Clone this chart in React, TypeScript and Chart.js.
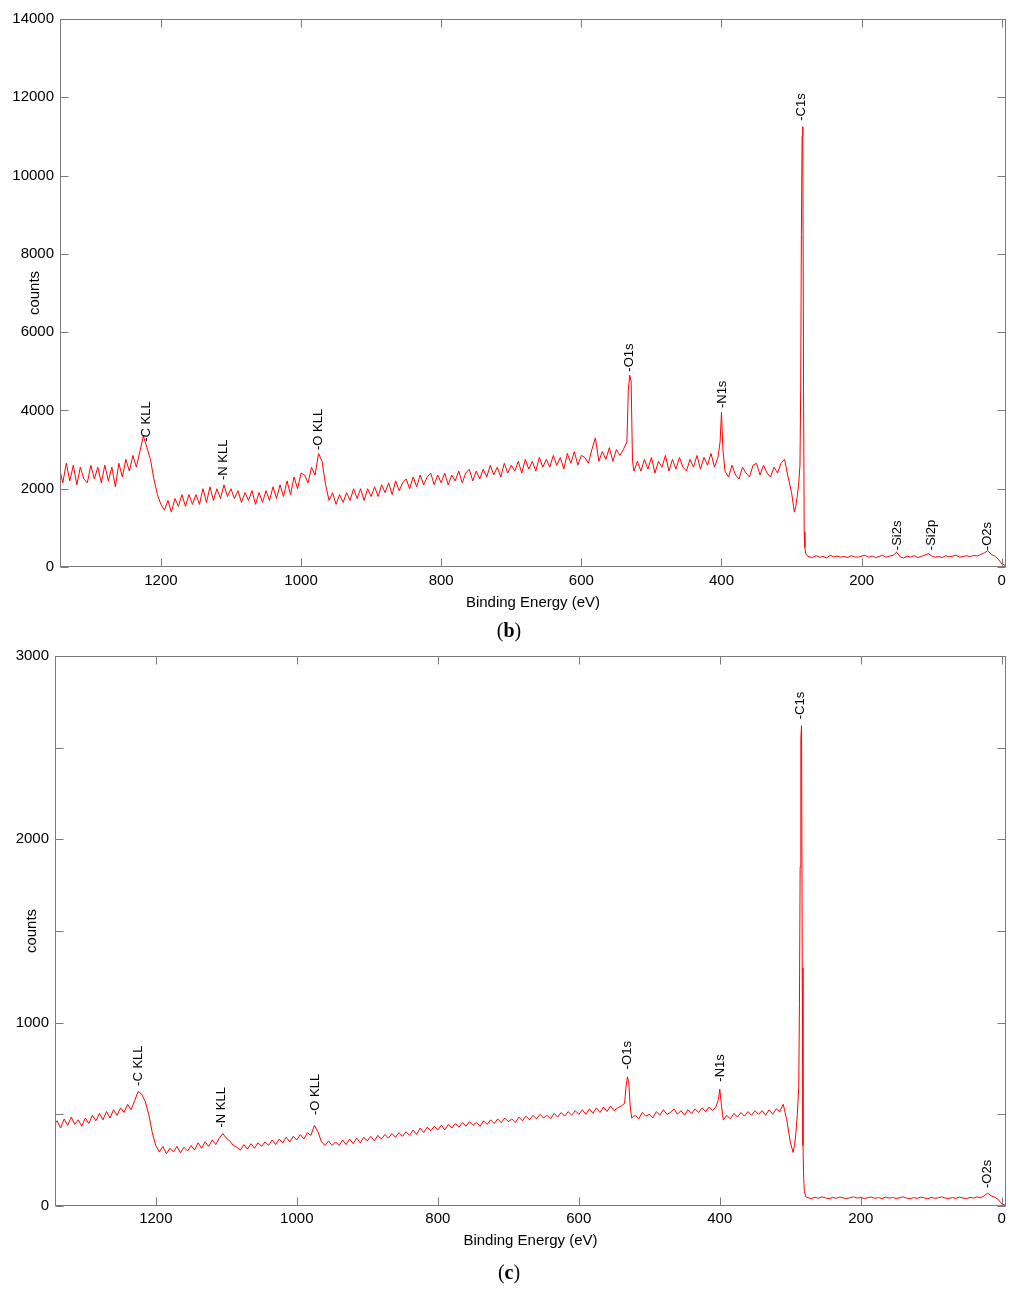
import React, { useEffect, useRef } from 'react';
import { Chart, registerables } from 'chart.js';

Chart.register(...registerables);

const FONT = '"Liberation Sans", Arial, sans-serif';

// Binding energies (eV), shared by both spectra
const energies = [
  1345, 1340, 1335, 1330, 1325, 1320, 1315, 1310, 1305, 1300,
  1295, 1290, 1285, 1280, 1275, 1270, 1265, 1260, 1255, 1250,
  1245, 1240, 1235, 1230, 1225, 1220, 1215, 1210, 1205, 1200,
  1195, 1190, 1185, 1180, 1175, 1170, 1165, 1160, 1155, 1150,
  1145, 1140, 1135, 1130, 1125, 1120, 1115, 1110, 1105, 1100,
  1095, 1090, 1085, 1080, 1075, 1070, 1065, 1060, 1055, 1050,
  1045, 1040, 1035, 1030, 1025, 1020, 1015, 1010, 1005, 1000,
  995, 990, 985, 980, 975, 970, 965, 960, 955, 950,
  945, 940, 935, 930, 925, 920, 915, 910, 905, 900,
  895, 890, 885, 880, 875, 870, 865, 860, 855, 850,
  845, 840, 835, 830, 825, 820, 815, 810, 805, 800,
  795, 790, 785, 780, 775, 770, 765, 760, 755, 750,
  745, 740, 735, 730, 725, 720, 715, 710, 705, 700,
  695, 690, 685, 680, 675, 670, 665, 660, 655, 650,
  645, 640, 635, 630, 625, 620, 615, 610, 605, 600,
  595, 590, 585, 580, 575, 570, 565, 560, 555, 550,
  545, 540, 535, 533, 531, 529, 527, 525,
  520, 515, 510, 505, 500, 495, 490, 485, 480, 475,
  470, 465, 460, 455, 450, 445, 440, 435, 430, 425,
  420, 415, 410, 405, 402, 400, 398,
  395, 390, 385, 380, 375, 370, 365, 360, 355, 350,
  345, 340, 335, 330, 325, 320, 315, 310, 305, 300,
  296, 294, 292, 290, 288, 287, 286, 285, 284, 283, 282, 281, 280, 278,
  275, 270, 265, 260, 255, 250, 245, 240, 235, 230,
  225, 220, 215, 210, 205, 200, 195, 190, 185, 180,
  175, 170, 165, 160, 155, 150, 145, 140, 135, 130,
  125, 120, 115, 110, 105, 100, 95, 90, 85, 80,
  75, 70, 65, 60, 55, 50, 45, 40, 35, 30,
  25, 20, 15, 10, 5, 2, 0, -5,
];

// Spectrum (b) counts
const countsB = [
  2550, 2150, 2650, 2200, 2600, 2100, 2550, 2250, 2150, 2600,
  2250, 2550, 2150, 2600, 2200, 2550, 2050, 2650, 2300, 2750,
  2450, 2850, 2550, 2950, 3350, 3050, 2750, 2250, 1850, 1600,
  1450, 1700, 1400, 1750, 1550, 1850, 1550, 1850, 1600, 1850,
  1600, 2000, 1650, 2050, 1700, 2000, 1750, 2100, 1800, 2000,
  1750, 1950, 1650, 1900, 1700, 1950, 1600, 1900, 1650, 1950,
  1700, 2050, 1750, 2100, 1800, 2200, 1850, 2300, 2000, 2400,
  2350, 2150, 2550, 2350, 2900, 2700, 2100, 1700, 1900, 1600,
  1850, 1650, 1900, 1700, 2000, 1750, 2000, 1700, 2000, 1800,
  2050, 1800, 2100, 1900, 2150, 1850, 2200, 1950, 2150, 2250,
  2000, 2300, 2050, 2350, 2100, 2300, 2400, 2100, 2350, 2150,
  2400, 2100, 2350, 2200, 2450, 2150, 2400, 2500, 2200, 2450,
  2250, 2500, 2300, 2600, 2350, 2550, 2300, 2650, 2400, 2600,
  2450, 2700, 2400, 2750, 2500, 2700, 2450, 2800, 2550, 2750,
  2550, 2850, 2600, 2800, 2500, 2900, 2650, 2950, 2600, 2850,
  2800, 2650, 3000, 3300, 2700, 2950, 2750, 3050, 2700, 3000,
  2850, 3000, 3200, 4500, 4900, 4750, 2700, 2450,
  2700, 2450, 2750, 2500, 2800, 2400, 2700, 2550, 2850, 2450,
  2750, 2500, 2800, 2550, 2450, 2750, 2550, 2850, 2500, 2800,
  2600, 2900, 2550, 2800, 3200, 3950, 3000,
  2450, 2300, 2600, 2350, 2250, 2550, 2400, 2300, 2600, 2650,
  2350, 2600, 2400, 2300, 2550, 2400, 2650, 2750, 2300, 1900,
  1400, 1550, 1800, 2100, 2600, 4500, 8500, 11000, 11250, 5000, 900, 500, 350, 290,
  260, 240, 290, 250, 270, 230, 300, 260, 280, 250,
  270, 240, 290, 260, 250, 280, 300, 250, 280, 240,
  270, 300, 250, 280, 300, 380, 260, 230, 280, 250,
  290, 240, 270, 300, 340, 280, 250, 270, 240, 290,
  260, 280, 300, 250, 270, 290, 260, 300, 280, 320,
  360, 420, 320, 280, 200, 130, 80, 40,
];

// Spectrum (c) counts
const countsC = [
  440, 465, 425, 475, 440, 485, 445, 470, 435, 480,
  450, 495, 465, 505, 470, 515, 480, 525, 495, 535,
  510, 555, 525, 575, 625, 610, 570, 500, 400, 330,
  295, 325, 285, 315, 295, 325, 290, 320, 300, 330,
  305, 345, 315, 350, 325, 360, 335, 370, 395, 370,
  355, 330, 320, 305, 335, 310, 340, 315, 345, 325,
  350, 330, 360, 335, 365, 345, 375, 350, 380, 360,
  390, 365, 400, 385, 440, 405, 350, 330, 355, 330,
  350, 330, 360, 335, 365, 340, 370, 345, 375, 355,
  380, 355, 385, 365, 390, 370, 395, 375, 400, 380,
  405, 385, 415, 390, 425, 400, 430, 410, 435, 415,
  440, 415, 445, 425, 450, 430, 455, 435, 460, 440,
  455, 435, 465, 445, 470, 450, 475, 455, 480, 460,
  475, 455, 485, 465, 490, 470, 495, 475, 500, 480,
  495, 475, 505, 485, 510, 490, 515, 495, 520, 500,
  525, 500, 530, 505, 535, 510, 540, 515, 545, 520,
  535, 545, 560, 650, 705, 670, 540, 480,
  495, 475, 510, 490, 500, 480, 515, 495, 525, 500,
  510, 530, 500, 520, 495, 525, 505, 530, 510, 535,
  515, 540, 520, 545, 580, 638, 560,
  470, 495, 475, 505, 485, 510, 490, 515, 495, 520,
  500, 520, 495, 525, 500, 530, 515, 555, 470, 350,
  292, 330, 400, 500, 650, 1100, 1850, 2550, 2620, 1300, 330, 150, 80, 50,
  45, 40, 48, 42, 50, 44, 40, 47, 42, 49,
  44, 40, 46, 50, 43, 47, 41, 45, 49, 42,
  46, 40, 48, 43, 47, 41, 45, 50, 43, 40,
  46, 42, 48, 44, 40, 47, 42, 45, 50, 43,
  41, 46, 42, 48, 44, 40, 47, 43, 50, 45,
  55, 70, 55, 48, 35, 20, 10, 5,
];

const xTickValues = [0, 200, 400, 600, 800, 1000, 1200];
const yTicksB = [0, 2000, 4000, 6000, 8000, 10000, 12000, 14000];
const yTicksC = [0, 500, 1000, 1500, 2000, 2500, 3000];
const yLabelsC = [0, 1000, 2000, 3000];

// Peak annotations
const peakNamesB = ['-C KLL', '-N KLL', '-O KLL', '-O1s', '-N1s', '-C1s', '-Si2s', '-Si2p', '-O2s'];
const peakEnergyB = [1221, 1111, 975, 531, 398, 286, 149, 101, 21];
const peakLabelYB = [3200, 2220, 2990, 4990, 4060, 11400, 430, 430, 430];

const peakNamesC = ['-C KLL', '-N KLL', '-O KLL', '-O1s', '-N1s', '-C1s', '-O2s'];
const peakEnergyC = [1225, 1107, 973, 531, 399, 285, 21];
const peakLabelYC = [655, 428, 496, 746, 678, 2655, 98];

type Cfg = {
  counts: number[];
  yMax: number;
  yTicks: number[];
  yLabels: number[];
  xMin: number;
  xMax: number;
  names: string[];
  peakE: number[];
  peakY: number[];
  padding: { left: number; right: number; top: number; bottom: number };
  yWidth: number;
  xHeight: number;
  xTickPad: number;
  yTitlePad: number;
};

function makeChart(canvas: HTMLCanvasElement, cfg: Cfg) {
  const points = energies.map((e, i) => ({ x: e, y: cfg.counts[i] }));
  const overlay = {
    id: 'overlay',
    afterDraw(chart: any) {
      const { ctx, chartArea: a, scales } = chart;
      const L = Math.round(a.left) + 0.5;
      const R = Math.round(a.right) - 0.5;
      const T = Math.round(a.top) + 0.5;
      const B = Math.round(a.bottom) - 0.5;
      ctx.save();
      ctx.strokeStyle = '#7a7a7a';
      ctx.lineWidth = 1;
      ctx.strokeRect(L, T, R - L, B - T);
      const tl = 8;
      ctx.beginPath();
      for (const t of scales.x.ticks) {
        const px = Math.round(scales.x.getPixelForValue(t.value)) + 0.5;
        ctx.moveTo(px, B);
        ctx.lineTo(px, B - tl);
        ctx.moveTo(px, T);
        ctx.lineTo(px, T + tl);
      }
      for (const t of scales.y.ticks) {
        const py = Math.round(scales.y.getPixelForValue(t.value)) + 0.5;
        ctx.moveTo(L, py);
        ctx.lineTo(L + tl, py);
        ctx.moveTo(R, py);
        ctx.lineTo(R - tl, py);
      }
      ctx.stroke();
      ctx.fillStyle = '#000';
      ctx.font = '13px ' + FONT;
      ctx.textAlign = 'left';
      ctx.textBaseline = 'middle';
      cfg.names.forEach((n, i) => {
        const x = scales.x.getPixelForValue(cfg.peakE[i]);
        const y = scales.y.getPixelForValue(cfg.peakY[i]);
        ctx.save();
        ctx.translate(x, y);
        ctx.rotate(-Math.PI / 2);
        ctx.fillText(n, 0, 0);
        ctx.restore();
      });
      ctx.restore();
    },
  };
  return new Chart(canvas, {
    type: 'line',
    data: {
      datasets: [
        {
          data: points,
          borderColor: '#ff0000',
          borderWidth: 1,
          pointRadius: 0,
          tension: 0,
          fill: false,
        },
      ],
    },
    options: {
      responsive: false,
      animation: false,
      events: [],
      layout: { padding: cfg.padding },
      plugins: { legend: { display: false }, tooltip: { enabled: false } },
      scales: {
        x: {
          type: 'linear',
          reverse: true,
          min: cfg.xMin,
          max: cfg.xMax,
          afterBuildTicks: (s: any) => {
            s.ticks = xTickValues.map((v) => ({ value: v }));
          },
          afterFit: (s: any) => {
            s.height = cfg.xHeight;
          },
          grid: { display: false, drawTicks: false },
          border: { display: false },
          ticks: {
            padding: cfg.xTickPad,
            color: '#000',
            font: { family: FONT, size: 15 },
            maxRotation: 0,
            autoSkip: false,
            callback: (v: any) => String(v),
          },
          title: {
            display: true,
            text: 'Binding Energy (eV)',
            color: '#000',
            font: { family: FONT, size: 15 },
            padding: { top: 0, bottom: 0 },
          },
        },
        y: {
          type: 'linear',
          min: 0,
          max: cfg.yMax,
          afterBuildTicks: (s: any) => {
            s.ticks = cfg.yTicks.map((v) => ({ value: v }));
          },
          afterFit: (s: any) => {
            s.width = cfg.yWidth;
          },
          grid: { display: false, drawTicks: false },
          border: { display: false },
          ticks: {
            padding: 6,
            color: '#000',
            font: { family: FONT, size: 15 },
            autoSkip: false,
            callback: (v: any) => (cfg.yLabels.includes(Number(v)) ? String(v) : ''),
          },
          title: {
            display: true,
            text: 'counts',
            color: '#000',
            font: { family: FONT, size: 15 },
            padding: { top: cfg.yTitlePad, bottom: 0 },
          },
        },
      },
    } as any,
    plugins: [overlay],
  });
}

const cfgB: Cfg = {
  counts: countsB,
  yMax: 14000,
  yTicks: yTicksB,
  yLabels: yTicksB,
  xMin: -6,
  xMax: 1344,
  names: peakNamesB,
  peakE: peakEnergyB,
  peakY: peakLabelYB,
  padding: { left: 0, right: 18, top: 19, bottom: 28 },
  yWidth: 60,
  xHeight: 45,
  xTickPad: 5,
  yTitlePad: 26,
};

const cfgC: Cfg = {
  counts: countsC,
  yMax: 3000,
  yTicks: yTicksC,
  yLabels: yLabelsC,
  xMin: -6,
  xMax: 1343,
  names: peakNamesC,
  peakE: peakEnergyC,
  peakY: peakLabelYC,
  padding: { left: 0, right: 18, top: 16, bottom: 30 },
  yWidth: 55,
  xHeight: 44,
  xTickPad: 4,
  yTitlePad: 23,
};

const capStyle: React.CSSProperties = {
  position: 'absolute',
  left: 459,
  width: 100,
  textAlign: 'center',
  fontFamily: '"Liberation Serif", "DejaVu Serif", serif',
  fontSize: 20,
  lineHeight: '24px',
  color: '#000',
};

export default function App() {
  const refB = useRef<HTMLCanvasElement>(null);
  const refC = useRef<HTMLCanvasElement>(null);
  useEffect(() => {
    const cb = makeChart(refB.current as HTMLCanvasElement, cfgB);
    const cc = makeChart(refC.current as HTMLCanvasElement, cfgC);
    return () => {
      cb.destroy();
      cc.destroy();
    };
  }, []);
  return (
    <div style={{ position: 'absolute', left: 0, top: 0, width: 1024, height: 1295, background: '#fff' }}>
      <canvas
        ref={refB}
        width={1024}
        height={640}
        style={{ position: 'absolute', left: 0, top: 0, width: 1024, height: 640 }}
      />
      <canvas
        ref={refC}
        width={1024}
        height={640}
        style={{ position: 'absolute', left: 0, top: 640, width: 1024, height: 640 }}
      />
      <div style={{ ...capStyle, top: 618 }}>
        (<b>b</b>)
      </div>
      <div style={{ ...capStyle, top: 1260 }}>
        (<b>c</b>)
      </div>
    </div>
  );
}
